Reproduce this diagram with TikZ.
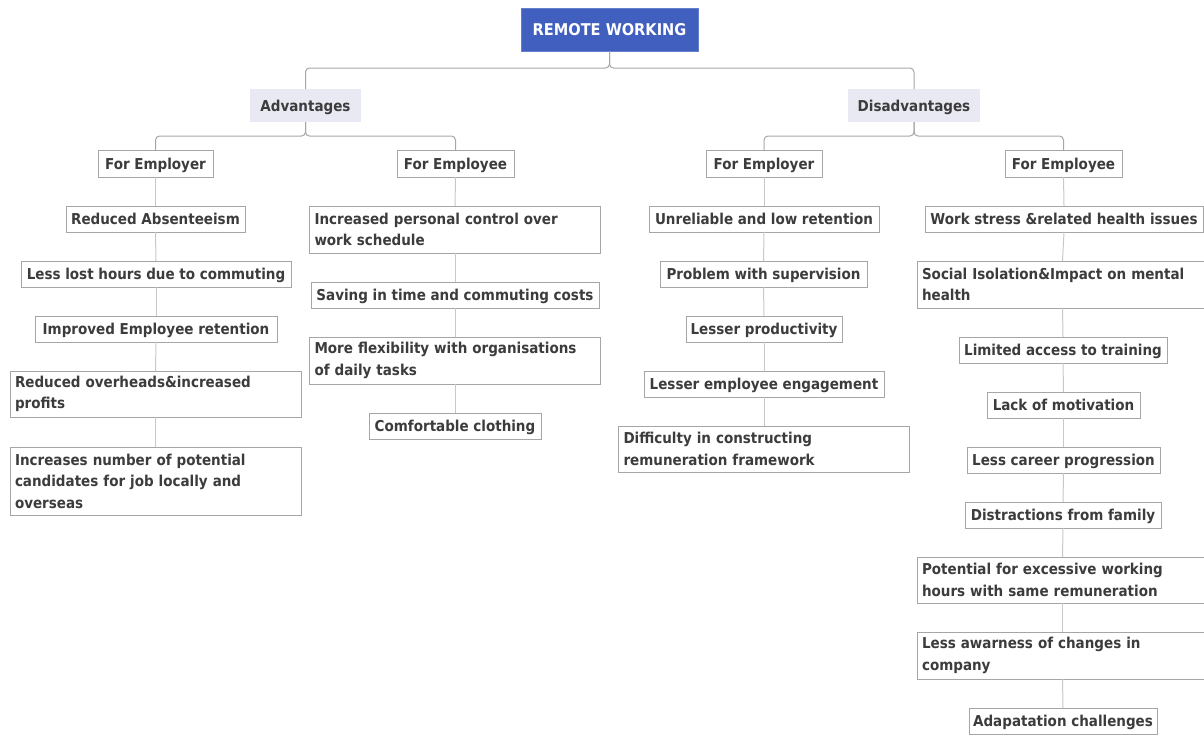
\documentclass[tikz,border=0pt]{standalone}
\usepackage{fontspec}
\setmainfont{DejaVu Sans Condensed}
\definecolor{txt}{HTML}{3C3C3C}
\definecolor{bord}{HTML}{A6A6A6}
\definecolor{vln}{HTML}{C8C8C8}
\definecolor{rootfill}{HTML}{405FBE}
\definecolor{catfill}{HTML}{E8E9F2}
\hyphenpenalty=10000
\begin{document}
\begin{tikzpicture}[x=1pt,y=-1pt,
  every node/.style={font=\fontsize{15}{21.5}\selectfont\bfseries, text=txt, inner sep=0pt, outer sep=0pt},
  oneline/.style={text height=11, text depth=0},
  rootbox/.style={fill=rootfill, draw=rootfill!80!white, text=white, minimum height=43, font=\fontsize{16.2}{20}\selectfont\bfseries, text height=11.8, text depth=0},
  catbox/.style={fill=catfill, minimum height=33, oneline},
  subbox/.style={draw=bord, fill=white, minimum height=27, oneline},
  leaf/.style={draw=bord, fill=white, minimum height=26, oneline},
  leafm/.style={draw=bord, fill=white, text width=281, inner xsep=5, inner ysep=2, align=left},
  conn/.style={draw=bord, line width=1pt, rounded corners=4},
  vline/.style={draw=vln, line width=1pt}]
\useasboundingbox (0,0) rectangle (1204,734);
\clip (0,0) rectangle (1204,734);
% root & categories
\node[rootbox, minimum width=177] (root) at (609.5,29.5) {REMOTE WORKING};
\node[catbox, minimum width=111] (adv) at (305.5,105.5) {Advantages};
\node[catbox, minimum width=132] (dis) at (914,105.5) {Disadvantages};
\node[subbox, minimum width=115] (lemp) at (155.5,163.5) {For Employer};
\node[subbox, minimum width=117] (lwrk) at (455.5,163.5) {For Employee};
\node[subbox, minimum width=116] (remp) at (764,163.5) {For Employer};
\node[subbox, minimum width=117] (rwrk) at (1063.5,163.5) {For Employee};
% left employer
\node[leaf, minimum width=179] (a1) at (155.5,219) {Reduced Absenteeism};
\node[leaf, minimum width=270] (a2) at (156,274) {Less lost hours due to commuting};
\node[leaf, minimum width=242] (a3) at (156,329) {Improved Employee retention};
\node[leafm, minimum height=46] (a4) at (155.5,394) {Reduced overheads\&increased\\profits};
\node[leafm, minimum height=68] (a5) at (155.5,481) {Increases number of potential\\candidates for job locally and\\overseas};
% left employee
\node[leafm, minimum height=47] (b1) at (455,229.5) {Increased personal control over\\work schedule};
\node[leaf, minimum width=288] (b2) at (455,295) {Saving in time and commuting costs};
\node[leafm, minimum height=47] (b3) at (455,360.5) {More flexibility with organisations\\of daily tasks};
\node[leaf, minimum width=172] (b4) at (455,426) {Comfortable clothing};
% right employer
\node[leaf, minimum width=230] (c1) at (764,219) {Unreliable and low retention};
\node[leaf, minimum width=207] (c2) at (763.5,274) {Problem with supervision};
\node[leaf, minimum width=156] (c3) at (764,329) {Lesser productivity};
\node[leaf, minimum width=240] (c4) at (764,384) {Lesser employee engagement};
\node[leafm, minimum height=46] (c5) at (764,449) {Difficulty in constructing\\remuneration framework};
% right employee
\node[leaf, minimum width=278] (d1) at (1064,219) {Work stress \&related health issues};
\node[leafm, minimum height=47] (d2) at (1062.5,284.5) {Social Isolation\&Impact on mental\\health};
\node[leaf, minimum width=208] (d3) at (1063,350) {Limited access to training};
\node[leaf, minimum width=153] (d4) at (1063.5,405) {Lack of motivation};
\node[leaf, minimum width=193] (d5) at (1063.5,460) {Less career progression};
\node[leaf, minimum width=196] (d6) at (1063,515) {Distractions from family};
\node[leafm, minimum height=46] (d7) at (1062.5,580) {Potential for excessive working\\hours with same remuneration};
\node[leafm, minimum height=47] (d8) at (1062.5,655.5) {Less awarness of changes in\\company};
\node[leaf, minimum width=188] (d9) at (1063,721) {Adapatation challenges};
% connectors
\draw[conn] (root.south) -- ++(0,17) -| (adv.north);
\draw[conn] (root.south) -- ++(0,17) -| (dis.north);
\draw[conn] (adv.south) -- ++(0,14) -| (lemp.north);
\draw[conn] (adv.south) -- ++(0,14) -| (lwrk.north);
\draw[conn] (dis.south) -- ++(0,14) -| (remp.north);
\draw[conn] (dis.south) -- ++(0,14) -| (rwrk.north);
\draw[vline] (lemp.south) -- (a1.north);
\draw[vline] (a1.south) -- (a2.north);
\draw[vline] (a2.south) -- (a3.north);
\draw[vline] (a3.south) -- (a4.north);
\draw[vline] (a4.south) -- (a5.north);
\draw[vline] (lwrk.south) -- (b1.north);
\draw[vline] (b1.south) -- (b2.north);
\draw[vline] (b2.south) -- (b3.north);
\draw[vline] (b3.south) -- (b4.north);
\draw[vline] (remp.south) -- (c1.north);
\draw[vline] (c1.south) -- (c2.north);
\draw[vline] (c2.south) -- (c3.north);
\draw[vline] (c3.south) -- (c4.north);
\draw[vline] (c4.south) -- (c5.north);
\draw[vline] (rwrk.south) -- (d1.north);
\draw[vline] (d1.south) -- (d2.north);
\draw[vline] (d2.south) -- (d3.north);
\draw[vline] (d3.south) -- (d4.north);
\draw[vline] (d4.south) -- (d5.north);
\draw[vline] (d5.south) -- (d6.north);
\draw[vline] (d6.south) -- (d7.north);
\draw[vline] (d7.south) -- (d8.north);
\draw[vline] (d8.south) -- (d9.north);
\end{tikzpicture}
\end{document}
